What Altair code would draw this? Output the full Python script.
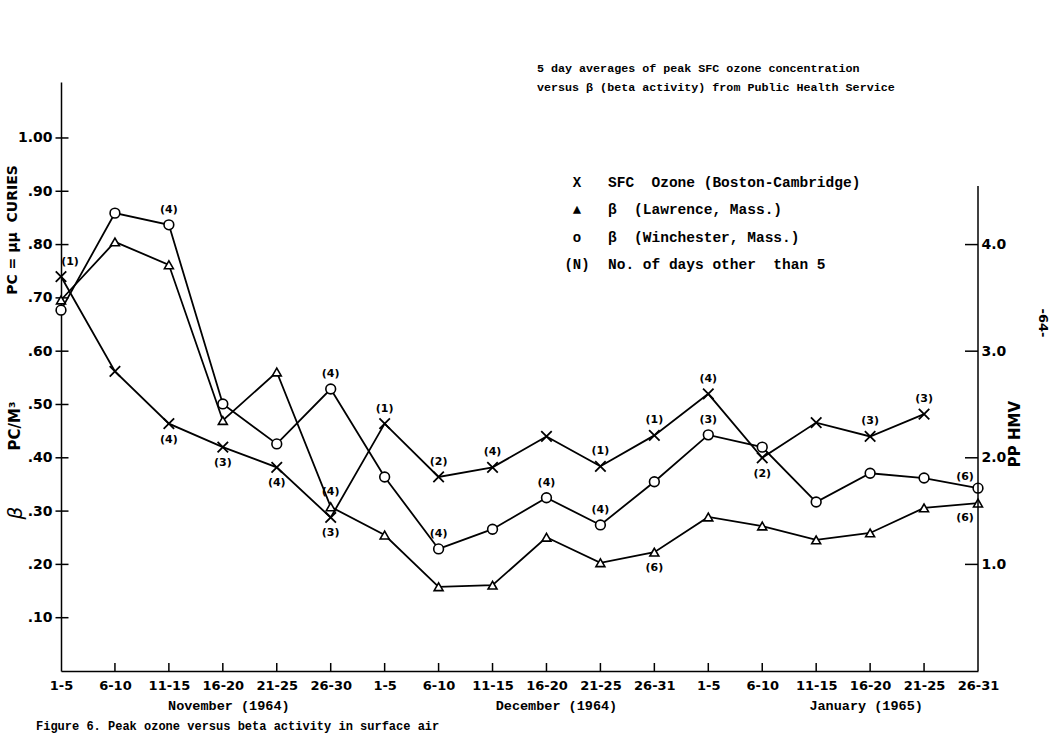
import altair as alt
import pandas as pd

# ---------------- data ----------------
day_ranges = ["1-5", "6-10", "11-15", "16-20", "21-25", "26-30",
              "1-5", "6-10", "11-15", "16-20", "21-25", "26-31",
              "1-5", "6-10", "11-15", "16-20", "21-25", "26-31"]
month_of_range = ["Nov"] * 6 + ["Dec"] * 6 + ["Jan"] * 6

# SFC ozone, Boston-Cambridge (pphm, right axis)
ozone_pphm = [3.70, 2.81, 2.32, 2.10, 1.91, 1.44, 2.32, 1.82, 1.91, 2.20,
              1.92, 2.21, 2.60, 2.00, 2.33, 2.20, 2.41, None]
# beta activity (pc/m3, left axis)
lawrence_beta = [0.696, 0.805, 0.762, 0.470, 0.561, 0.308, 0.255, 0.158, 0.161,
                 0.251, 0.203, 0.223, 0.289, 0.272, 0.246, 0.259, 0.306, 0.315]
winchester_beta = [0.677, 0.859, 0.837, 0.501, 0.426, 0.529, 0.364, 0.229, 0.266,
                   0.325, 0.274, 0.355, 0.443, 0.420, 0.317, 0.371, 0.362, 0.343]

# number of days other than 5
ozone_days = [1, None, 4, 3, 4, 3, 1, 2, 4, None, 1, 1, 4, 2, None, 3, 3, None]
lawrence_days = [None, None, None, None, None, 4, None, None, None, None, None, 6,
                 None, None, None, None, None, 6]
winchester_days = [None, None, 4, None, None, 4, None, 4, None, 4, 4, None,
                   3, None, None, None, None, 6]

left_ticks = [0.1, 0.2, 0.3, 0.4, 0.5, 0.6, 0.7, 0.8, 0.9, 1.0]
right_ticks = [1.0, 2.0, 3.0, 4.0]

month_labels = ["November (1964)", "December (1964)", "January (1965)"]
month_anchor = ["Nov 16-20", "Dec 16-20", "Jan 16-20"]

NB = "\u00a0"
title_lines = ["5 day averages of peak SFC ozone concentration",
               "versus \u03b2 (beta activity) from Public Health Service"]
legend_symbols = ["X", "\u25b2", "o", "(N)"]
legend_texts = ["SFC" + NB * 2 + "Ozone (Boston-Cambridge)",
                "\u03b2" + NB * 2 + "(Lawrence, Mass.)",
                "\u03b2" + NB * 2 + "(Winchester, Mass.)",
                "No. of days other" + NB * 2 + "than 5"]

# ---------------- styles ----------------
ozone_side = {0: "above_right", 2: "below", 3: "below", 4: "below", 5: "below", 13: "below"}
lawrence_side = {11: "below", 17: "below_left"}
winchester_side = {17: "above_left"}
OFFSETS = {"above": (0, -15), "below": (0, 16), "above_right": (9, -15),
           "above_left": (-13, -11), "below_left": (-13, 15)}

keys = [f"{m} {d}" for m, d in zip(month_of_range, day_ranges)]
W, H = 917, 589
LEFT, TOP = 61, 82
LBL_FONT = "DejaVu Sans"
MONO = "Liberation Mono"

xscale = alt.Scale(type="point", domain=keys, padding=0)
lscale = alt.Scale(domain=[0, 1.105], nice=False, zero=True)
rscale = alt.Scale(domain=[0, 5.525], nice=False, zero=True)

xaxis = alt.Axis(title=None, labelExpr="split(datum.label, ' ')[1]", labelAngle=0,
                 labelFont=LBL_FONT, labelFontSize=13, labelFontWeight="bold", labelPadding=8,
                 ticks=False, tickSize=0, labelOverlap=False, labelBound=False, labelFlush=False,
                 domainColor="black", domainWidth=1.5, labelColor="black", grid=False)
yaxis = alt.Axis(title=None, values=left_ticks, ticks=False, tickSize=0, labelPadding=9,
                 labelExpr="datum.value == 1 ? '1.00' : replace(format(datum.value, '.2f'), '0.', '.')",
                 labelFont=LBL_FONT, labelFontSize=14, labelFontWeight="bold", labelColor="black",
                 domainColor="black", domainWidth=1.5, grid=False)
raxis = alt.Axis(title=None, orient="right", values=right_ticks, format=".1f", ticks=False,
                 tickSize=0, domain=False, labelPadding=3, labelFont=LBL_FONT,
                 labelFontSize=14, labelFontWeight="bold", labelColor="black", grid=False)

X = alt.X("key:O", scale=xscale, axis=xaxis, sort=keys)
YL = alt.Y("v:Q", scale=lscale, axis=yaxis)
YR = alt.Y("v:Q", scale=rscale, axis=raxis)


def make_df(values, days, side):
    rows = []
    for i, (k, v, n) in enumerate(zip(keys, values, days)):
        if v is None:
            continue
        rows.append({"key": k, "v": v,
                     "label": f"({n})" if n is not None else None,
                     "side": side.get(i, "above")})
    return pd.DataFrame(rows)


oz_df = make_df(ozone_pphm, ozone_days, ozone_side)
law_df = make_df(lawrence_beta, lawrence_days, lawrence_side)
win_df = make_df(winchester_beta, winchester_days, winchester_side)


def labels(df, Y):
    out = []
    for side, (dx, dy) in OFFSETS.items():
        sub = df[(df["side"] == side) & df["label"].notna()]
        if len(sub) == 0:
            continue
        out.append(alt.Chart(sub).mark_text(font=LBL_FONT, fontSize=11, fontWeight="bold",
                                            color="black", dx=dx, dy=dy)
                   .encode(x=X, y=Y, text="label:N"))
    return out


line_style = dict(color="black", strokeWidth=1.8)

# ---------- beta group (left axis) ----------
law_line = alt.Chart(law_df).mark_line(**line_style).encode(x=X, y=YL)
win_line = alt.Chart(win_df).mark_line(**line_style).encode(x=X, y=YL)
law_pts = alt.Chart(law_df).mark_point(shape="triangle-up", size=80, fill="white", stroke="black",
                                       strokeWidth=1.6, opacity=1).encode(x=X, y=YL)
win_pts = alt.Chart(win_df).mark_point(shape="circle", size=95, fill="white", stroke="black",
                                       strokeWidth=1.6, opacity=1).encode(x=X, y=YL)

xtick_df = pd.DataFrame({"key": keys[1:-1], "v": [0.0] * (len(keys) - 2)})
x_ticks = alt.Chart(xtick_df).mark_tick(orient="vertical", size=8, thickness=1.5, color="black",
                                        yOffset=-4, opacity=1).encode(x=X, y=YL)
ltick_df = pd.DataFrame({"key": [keys[0]] * len(left_ticks), "v": left_ticks})
l_ticks = alt.Chart(ltick_df).mark_tick(orient="horizontal", size=13, thickness=1.5, color="black",
                                        xOffset=1, opacity=1).encode(x=X, y=YL)

beta_group = alt.layer(law_line, win_line, x_ticks, l_ticks, law_pts, win_pts,
                       *labels(law_df, YL), *labels(win_df, YL))

# ---------- ozone group (right axis) ----------
oz_line = alt.Chart(oz_df).mark_line(**line_style).encode(x=X, y=YR)
oz_pts = alt.Chart(oz_df).mark_point(shape="M-1,-1L1,1M-1,1L1,-1", size=110, filled=False,
                                     color="black", strokeWidth=1.8, opacity=1).encode(x=X, y=YR)
rrule_df = pd.DataFrame({"key": [keys[-1]], "v": [0.0], "v2": [4.55]})
r_rule = alt.Chart(rrule_df).mark_rule(color="black", strokeWidth=1.5).encode(
    x=X, y=YR, y2="v2:Q")
rtick_df = pd.DataFrame({"key": [keys[-1]] * len(right_ticks), "v": right_ticks})
r_ticks = alt.Chart(rtick_df).mark_tick(orient="horizontal", size=13, thickness=1.5, color="black",
                                        xOffset=-6.5, opacity=1).encode(x=X, y=YR)

ozone_group = alt.layer(r_rule, r_ticks, oz_line, oz_pts, *labels(oz_df, YR))

# ---------- annotations ----------
one = pd.DataFrame({"a": [0]})


def note(text, x, y, size, font=MONO, weight="bold", angle=0, align="left", lh=None, style=None):
    kw = dict(font=font, fontSize=size, fontWeight=weight, color="black", angle=angle,
              align=align, baseline="middle")
    if lh is not None:
        kw["lineHeight"] = lh
    if style is not None:
        kw["fontStyle"] = style
    return alt.Chart(one).mark_text(**kw).encode(
        x=alt.value(x - LEFT), y=alt.value(y - TOP), text=alt.value(text))


ann = [
    note(title_lines, 537, 68, 11.7, lh=19),
    note(legend_symbols, 577, 183, 14, align="center", lh=27.3),
    note(legend_texts, 608, 183, 14.5, lh=27.3),
    note("PC = \u03bc\u03bc" + NB * 2 + "CURIES", 13, 230, 14, font=LBL_FONT, angle=270, align="center"),
    note("PC/M\u00b3", 15, 426, 15, font=LBL_FONT, angle=270, align="center"),
    note("\u03b2", 16, 513, 20, font=LBL_FONT, weight="normal", angle=270, align="center", style="italic"),
    note("PP HMV", 1015, 434, 15, font=LBL_FONT, weight="bold", angle=270, align="center"),
    note("-64-", 1043, 323, 13, font=LBL_FONT, angle=90, align="center"),
    note("Figure 6.  Peak ozone versus beta activity in surface air", 36, 726, 12),
]
month_dx = [6, 10, -4]
for lab, k, dx in zip(month_labels, month_anchor, month_dx):
    ann.append(alt.Chart(pd.DataFrame({"key": [k], "lab": [lab]})).mark_text(
        font=MONO, fontSize=13.5, fontWeight="bold", color="black", dx=dx, align="center",
        baseline="middle").encode(x=X, y=alt.value(706 - TOP), text="lab:N"))

chart = alt.layer(beta_group, ozone_group, *ann).resolve_scale(y="independent").properties(
    width=W, height=H,
    autosize=alt.AutoSizeParams(type="none"),
    padding={"left": LEFT, "top": TOP, "right": 1053 - LEFT - W, "bottom": 733 - TOP - H},
    background="white",
).configure_view(stroke=None)

chart.save("out.html", embed_options={"renderer": "svg", "actions": False})
